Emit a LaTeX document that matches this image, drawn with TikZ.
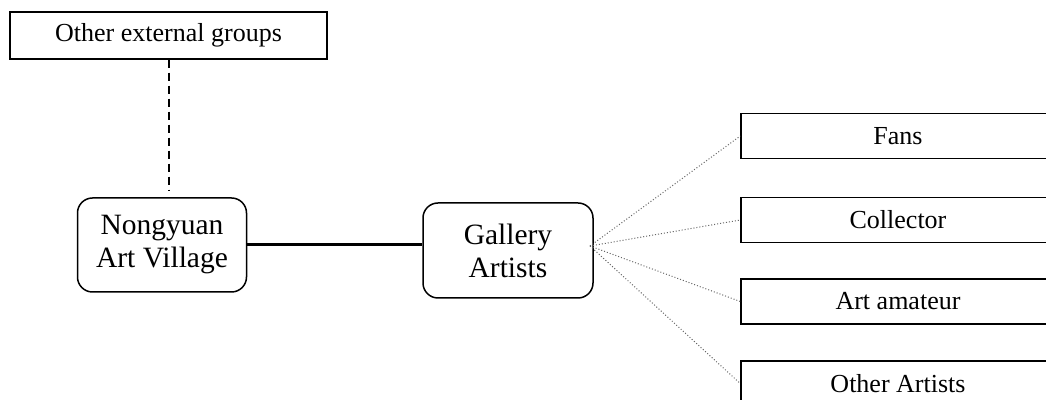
\documentclass[tikz,border=0pt]{standalone}
\usepackage{fontspec}
\setmainfont{Liberation Serif}
\tikzset{
  sqbox/.style={draw, line width=0.75pt, minimum width=157pt, minimum height=22.5pt,
    inner sep=0pt, font=\fontsize{13}{15}\selectfont},
  rndbox/.style={draw, line width=0.75pt, rounded corners=7.5pt, minimum width=85pt,
    minimum height=47.5pt, inner sep=0pt, align=center,
    font=\fontsize{14.75}{16.5}\selectfont},
  fanline/.style={gray!80!black, line width=0.5pt, densely dotted}
}
\begin{document}
\begin{tikzpicture}[x=0.5pt,y=-0.5pt]
  \useasboundingbox (0,0) rectangle (1046,400);
  \clip (0,0) rectangle (1046,400);
  % left part
  \node[sqbox, minimum width=158.5pt, minimum height=23.5pt] (other) at (168.5,35.5) {Other external groups};
  \node[rndbox, minimum width=84.5pt, minimum height=47pt] (village) at (162,245) {Nongyuan\\Art Village};
  \node[rndbox] (gallery) at (508,250.5) {Gallery\\Artists};
  \coordinate (dashend) at (169,190);
  \draw[line width=0.6pt, dash pattern=on 4pt off 2.5pt] (other.south -| dashend) -- (dashend);
  \draw[line width=1.5pt] (village.east) -- (village.east -| gallery.west);
  % right part
  \coordinate (hub) at (590,246);
  \foreach \name/\txt/\y in {fans/Fans/136, coll/Collector/220, amat/Art amateur/301.5, oart/Other Artists/383.5}{
    \node[sqbox] (\name) at (898,\y) {\txt};
    \draw[fanline] (hub) -- (\name.west);
  }
\end{tikzpicture}
\end{document}
